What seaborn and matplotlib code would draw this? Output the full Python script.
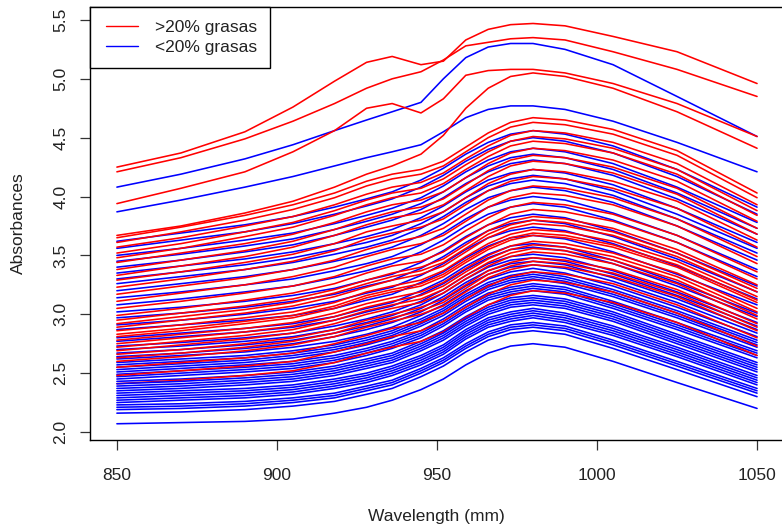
import matplotlib
matplotlib.use("Agg")
import matplotlib.pyplot as plt
from matplotlib.lines import Line2D
from matplotlib.legend_handler import HandlerLine2D
import seaborn as sns
import pandas as pd

# ---------------- data ----------------
wavelengths = [850, 870, 890, 905, 918, 928, 936, 945, 952, 959, 966, 973, 980, 990, 1005, 1025, 1050]

legend_labels = [">20% grasas", "<20% grasas"]
x_ticks = [850, 900, 950, 1000, 1050]
y_ticks = [2.0, 2.5, 3.0, 3.5, 4.0, 4.5, 5.0, 5.5]

# samples with more than 20 % fat (red)
high_fat = [
    [4.25, 4.37, 4.55, 4.76, 4.98, 5.14, 5.19, 5.12, 5.15, 5.33, 5.42, 5.46, 5.47, 5.45, 5.36, 5.23, 4.96],
    [4.21, 4.33, 4.49, 4.64, 4.79, 4.92, 5.00, 5.06, 5.16, 5.28, 5.31, 5.34, 5.35, 5.33, 5.23, 5.08, 4.85],
    [3.94, 4.07, 4.21, 4.38, 4.56, 4.75, 4.79, 4.71, 4.83, 5.03, 5.07, 5.08, 5.08, 5.05, 4.96, 4.79, 4.51],
    [3.67, 3.75, 3.86, 3.96, 4.08, 4.19, 4.26, 4.36, 4.52, 4.75, 4.92, 5.02, 5.05, 5.02, 4.92, 4.72, 4.41],
    [3.65, 3.74, 3.84, 3.93, 4.03, 4.13, 4.19, 4.23, 4.30, 4.42, 4.54, 4.63, 4.67, 4.65, 4.57, 4.39, 4.03],
    [3.61, 3.70, 3.80, 3.89, 3.99, 4.09, 4.15, 4.19, 4.26, 4.38, 4.50, 4.59, 4.63, 4.61, 4.53, 4.35, 3.99],
    [3.57, 3.65, 3.75, 3.83, 3.93, 4.02, 4.08, 4.12, 4.20, 4.32, 4.43, 4.52, 4.56, 4.54, 4.46, 4.28, 3.93],
    [3.52, 3.60, 3.70, 3.78, 3.88, 3.97, 4.03, 4.07, 4.15, 4.27, 4.38, 4.47, 4.51, 4.49, 4.41, 4.23, 3.88],
    [3.48, 3.56, 3.66, 3.74, 3.84, 3.93, 3.99, 4.03, 4.11, 4.23, 4.34, 4.43, 4.47, 4.45, 4.37, 4.19, 3.84],
    [3.44, 3.52, 3.60, 3.68, 3.78, 3.87, 3.93, 3.97, 4.04, 4.16, 4.28, 4.37, 4.41, 4.39, 4.31, 4.13, 3.79],
    [3.38, 3.46, 3.54, 3.62, 3.72, 3.81, 3.87, 3.91, 3.98, 4.10, 4.22, 4.31, 4.35, 4.33, 4.25, 4.07, 3.73],
    [3.33, 3.41, 3.49, 3.57, 3.67, 3.76, 3.82, 3.86, 3.93, 4.05, 4.17, 4.26, 4.30, 4.28, 4.20, 4.02, 3.68],
    [3.29, 3.36, 3.44, 3.51, 3.60, 3.70, 3.75, 3.80, 3.87, 3.99, 4.11, 4.19, 4.23, 4.21, 4.13, 3.96, 3.63],
    [3.23, 3.30, 3.38, 3.45, 3.54, 3.64, 3.69, 3.74, 3.81, 3.93, 4.05, 4.13, 4.17, 4.15, 4.07, 3.90, 3.57],
    [3.17, 3.24, 3.31, 3.38, 3.46, 3.55, 3.61, 3.66, 3.73, 3.85, 3.97, 4.05, 4.09, 4.07, 3.99, 3.81, 3.49],
    [3.11, 3.18, 3.25, 3.32, 3.40, 3.49, 3.55, 3.60, 3.67, 3.79, 3.91, 3.99, 4.03, 4.01, 3.93, 3.75, 3.43],
    [3.05, 3.11, 3.18, 3.24, 3.32, 3.41, 3.47, 3.51, 3.59, 3.71, 3.82, 3.91, 3.95, 3.93, 3.85, 3.67, 3.36],
    [2.99, 3.05, 3.12, 3.18, 3.26, 3.35, 3.41, 3.45, 3.53, 3.65, 3.76, 3.85, 3.89, 3.87, 3.79, 3.61, 3.30],
    [2.95, 3.01, 3.07, 3.13, 3.21, 3.29, 3.35, 3.40, 3.47, 3.59, 3.71, 3.79, 3.83, 3.81, 3.73, 3.55, 3.25],
    [2.92, 2.98, 3.04, 3.10, 3.18, 3.26, 3.32, 3.37, 3.44, 3.56, 3.68, 3.76, 3.80, 3.78, 3.70, 3.52, 3.22],
    [2.89, 2.95, 3.01, 3.07, 3.15, 3.23, 3.29, 3.34, 3.41, 3.53, 3.65, 3.73, 3.77, 3.75, 3.67, 3.49, 3.19],
    [2.86, 2.91, 2.97, 3.02, 3.10, 3.19, 3.24, 3.29, 3.37, 3.49, 3.60, 3.68, 3.72, 3.70, 3.62, 3.45, 3.15],
    [2.83, 2.88, 2.94, 2.99, 3.07, 3.16, 3.21, 3.26, 3.34, 3.46, 3.57, 3.65, 3.69, 3.67, 3.59, 3.42, 3.12],
    [2.81, 2.86, 2.92, 2.97, 3.05, 3.14, 3.19, 3.24, 3.32, 3.44, 3.55, 3.63, 3.67, 3.65, 3.57, 3.40, 3.10],
    [2.78, 2.83, 2.88, 2.93, 3.01, 3.09, 3.14, 3.19, 3.27, 3.39, 3.50, 3.58, 3.62, 3.60, 3.52, 3.35, 3.05],
    [2.75, 2.80, 2.85, 2.90, 2.98, 3.06, 3.11, 3.16, 3.24, 3.36, 3.47, 3.55, 3.59, 3.57, 3.49, 3.32, 3.02],
    [2.72, 2.77, 2.82, 2.87, 2.95, 3.03, 3.08, 3.13, 3.21, 3.33, 3.44, 3.52, 3.56, 3.54, 3.46, 3.29, 2.99],
    [2.69, 2.74, 2.79, 2.84, 2.92, 3.00, 3.05, 3.10, 3.18, 3.30, 3.41, 3.49, 3.53, 3.51, 3.43, 3.26, 2.96],
    [2.66, 2.70, 2.75, 2.80, 2.87, 2.95, 3.00, 3.06, 3.13, 3.25, 3.37, 3.44, 3.48, 3.46, 3.38, 3.21, 2.92],
    [2.63, 2.67, 2.72, 2.77, 2.84, 2.92, 2.97, 3.03, 3.10, 3.22, 3.34, 3.41, 3.45, 3.43, 3.35, 3.18, 2.89],
    [2.60, 2.64, 2.69, 2.74, 2.81, 2.89, 2.94, 3.00, 3.07, 3.19, 3.31, 3.38, 3.42, 3.40, 3.32, 3.15, 2.86],
    [2.55, 2.59, 2.63, 2.67, 2.75, 2.82, 2.88, 2.93, 3.01, 3.13, 3.24, 3.32, 3.36, 3.34, 3.26, 3.08, 2.80],
    [2.48, 2.52, 2.56, 2.60, 2.68, 2.75, 2.81, 2.86, 2.94, 3.06, 3.17, 3.25, 3.29, 3.27, 3.19, 3.01, 2.73],
    [2.41, 2.44, 2.48, 2.52, 2.59, 2.67, 2.72, 2.77, 2.85, 2.97, 3.08, 3.16, 3.20, 3.18, 3.10, 2.93, 2.65],
]

# samples with less than 20 % fat (blue)
low_fat = [
    [4.08, 4.19, 4.32, 4.44, 4.56, 4.65, 4.72, 4.80, 5.00, 5.18, 5.27, 5.30, 5.30, 5.25, 5.12, 4.85, 4.51],
    [3.87, 3.97, 4.08, 4.17, 4.26, 4.33, 4.38, 4.44, 4.55, 4.67, 4.74, 4.77, 4.77, 4.74, 4.64, 4.46, 4.21],
    [3.62, 3.69, 3.76, 3.83, 3.91, 3.98, 4.04, 4.14, 4.24, 4.36, 4.46, 4.53, 4.56, 4.53, 4.43, 4.23, 3.91],
    [3.56, 3.63, 3.70, 3.77, 3.85, 3.92, 3.98, 4.08, 4.18, 4.30, 4.40, 4.47, 4.50, 4.47, 4.37, 4.17, 3.85],
    [3.50, 3.56, 3.63, 3.69, 3.77, 3.84, 3.90, 3.99, 4.09, 4.21, 4.31, 4.38, 4.41, 4.38, 4.28, 4.08, 3.78],
    [3.45, 3.51, 3.58, 3.64, 3.72, 3.79, 3.85, 3.94, 4.04, 4.16, 4.26, 4.33, 4.36, 4.33, 4.23, 4.03, 3.73],
    [3.40, 3.46, 3.53, 3.59, 3.67, 3.74, 3.80, 3.89, 3.99, 4.11, 4.21, 4.28, 4.31, 4.28, 4.18, 3.98, 3.68],
    [3.35, 3.41, 3.47, 3.53, 3.60, 3.66, 3.72, 3.82, 3.92, 4.04, 4.14, 4.20, 4.23, 4.20, 4.10, 3.90, 3.61],
    [3.30, 3.36, 3.42, 3.48, 3.55, 3.61, 3.67, 3.77, 3.87, 3.99, 4.09, 4.15, 4.18, 4.15, 4.05, 3.85, 3.56],
    [3.26, 3.32, 3.38, 3.44, 3.51, 3.57, 3.63, 3.73, 3.83, 3.95, 4.05, 4.11, 4.14, 4.11, 4.01, 3.81, 3.52],
    [3.20, 3.26, 3.32, 3.38, 3.45, 3.51, 3.57, 3.67, 3.77, 3.89, 3.99, 4.05, 4.08, 4.05, 3.95, 3.75, 3.46],
    [3.14, 3.19, 3.25, 3.30, 3.37, 3.43, 3.49, 3.59, 3.69, 3.81, 3.91, 3.97, 4.00, 3.97, 3.86, 3.67, 3.38],
    [3.08, 3.13, 3.19, 3.24, 3.31, 3.37, 3.43, 3.53, 3.63, 3.75, 3.85, 3.91, 3.94, 3.91, 3.80, 3.61, 3.32],
    [3.02, 3.06, 3.11, 3.16, 3.22, 3.29, 3.34, 3.44, 3.54, 3.66, 3.76, 3.82, 3.85, 3.82, 3.71, 3.52, 3.24],
    [2.97, 3.01, 3.06, 3.11, 3.17, 3.24, 3.29, 3.39, 3.49, 3.61, 3.71, 3.77, 3.80, 3.77, 3.66, 3.47, 3.19],
    [2.91, 2.95, 3.00, 3.05, 3.11, 3.18, 3.23, 3.33, 3.43, 3.55, 3.65, 3.71, 3.74, 3.71, 3.60, 3.41, 3.13],
    [2.87, 2.91, 2.95, 2.99, 3.05, 3.12, 3.17, 3.27, 3.36, 3.48, 3.58, 3.65, 3.67, 3.64, 3.53, 3.34, 3.08],
    [2.80, 2.84, 2.88, 2.92, 2.98, 3.05, 3.10, 3.20, 3.29, 3.41, 3.51, 3.58, 3.60, 3.57, 3.46, 3.27, 3.01],
    [2.77, 2.81, 2.85, 2.89, 2.95, 3.02, 3.07, 3.17, 3.26, 3.38, 3.48, 3.55, 3.57, 3.54, 3.43, 3.24, 2.98],
    [2.73, 2.76, 2.80, 2.84, 2.90, 2.96, 3.02, 3.11, 3.21, 3.33, 3.43, 3.49, 3.51, 3.48, 3.37, 3.19, 2.93],
    [2.70, 2.73, 2.77, 2.81, 2.87, 2.93, 2.99, 3.08, 3.18, 3.30, 3.40, 3.46, 3.48, 3.45, 3.34, 3.16, 2.90],
    [2.67, 2.70, 2.74, 2.78, 2.84, 2.90, 2.96, 3.05, 3.15, 3.27, 3.37, 3.43, 3.45, 3.42, 3.31, 3.13, 2.87],
    [2.64, 2.67, 2.71, 2.75, 2.81, 2.87, 2.93, 3.02, 3.12, 3.24, 3.34, 3.40, 3.42, 3.39, 3.28, 3.10, 2.84],
    [2.62, 2.65, 2.68, 2.72, 2.77, 2.83, 2.89, 2.99, 3.08, 3.20, 3.30, 3.36, 3.39, 3.35, 3.24, 3.06, 2.81],
    [2.59, 2.62, 2.65, 2.69, 2.74, 2.80, 2.86, 2.96, 3.05, 3.17, 3.27, 3.33, 3.36, 3.32, 3.21, 3.03, 2.78],
    [2.57, 2.60, 2.63, 2.67, 2.72, 2.78, 2.84, 2.94, 3.03, 3.15, 3.25, 3.31, 3.34, 3.30, 3.19, 3.01, 2.76],
    [2.55, 2.58, 2.61, 2.65, 2.70, 2.76, 2.82, 2.92, 3.01, 3.13, 3.23, 3.29, 3.32, 3.28, 3.17, 2.99, 2.74],
    [2.53, 2.56, 2.59, 2.63, 2.68, 2.74, 2.80, 2.90, 2.99, 3.11, 3.21, 3.27, 3.30, 3.26, 3.15, 2.97, 2.72],
    [2.51, 2.54, 2.57, 2.60, 2.65, 2.71, 2.77, 2.86, 2.96, 3.08, 3.18, 3.23, 3.26, 3.23, 3.11, 2.93, 2.69],
    [2.49, 2.52, 2.55, 2.58, 2.63, 2.69, 2.75, 2.84, 2.94, 3.06, 3.16, 3.21, 3.24, 3.21, 3.09, 2.91, 2.67],
    [2.47, 2.50, 2.53, 2.56, 2.61, 2.67, 2.73, 2.82, 2.92, 3.04, 3.14, 3.19, 3.22, 3.19, 3.07, 2.89, 2.65],
    [2.45, 2.48, 2.51, 2.54, 2.59, 2.65, 2.71, 2.80, 2.90, 3.02, 3.12, 3.17, 3.20, 3.17, 3.05, 2.87, 2.63],
    [2.43, 2.45, 2.48, 2.51, 2.56, 2.62, 2.67, 2.77, 2.86, 2.98, 3.08, 3.14, 3.16, 3.13, 3.02, 2.83, 2.59],
    [2.41, 2.43, 2.46, 2.49, 2.54, 2.60, 2.65, 2.75, 2.84, 2.96, 3.06, 3.12, 3.14, 3.11, 3.00, 2.81, 2.57],
    [2.39, 2.41, 2.44, 2.47, 2.52, 2.58, 2.63, 2.73, 2.82, 2.94, 3.04, 3.10, 3.12, 3.09, 2.98, 2.79, 2.55],
    [2.37, 2.39, 2.42, 2.45, 2.50, 2.56, 2.61, 2.71, 2.80, 2.92, 3.02, 3.08, 3.10, 3.07, 2.96, 2.77, 2.53],
    [2.35, 2.37, 2.40, 2.43, 2.48, 2.54, 2.59, 2.69, 2.78, 2.90, 3.00, 3.06, 3.08, 3.05, 2.94, 2.75, 2.51],
    [2.33, 2.35, 2.37, 2.40, 2.45, 2.50, 2.56, 2.65, 2.74, 2.87, 2.97, 3.02, 3.05, 3.01, 2.90, 2.72, 2.48],
    [2.31, 2.33, 2.35, 2.38, 2.43, 2.48, 2.54, 2.63, 2.72, 2.85, 2.95, 3.00, 3.03, 2.99, 2.88, 2.70, 2.46],
    [2.29, 2.31, 2.33, 2.36, 2.41, 2.46, 2.52, 2.61, 2.70, 2.83, 2.93, 2.98, 3.01, 2.97, 2.86, 2.68, 2.44],
    [2.27, 2.29, 2.31, 2.34, 2.39, 2.44, 2.50, 2.59, 2.68, 2.81, 2.91, 2.96, 2.99, 2.95, 2.84, 2.66, 2.42],
    [2.25, 2.27, 2.29, 2.32, 2.37, 2.42, 2.48, 2.57, 2.66, 2.79, 2.89, 2.94, 2.97, 2.93, 2.82, 2.64, 2.40],
    [2.23, 2.24, 2.26, 2.29, 2.33, 2.39, 2.44, 2.54, 2.63, 2.75, 2.85, 2.91, 2.93, 2.90, 2.78, 2.60, 2.37],
    [2.21, 2.22, 2.24, 2.27, 2.31, 2.37, 2.42, 2.52, 2.61, 2.73, 2.83, 2.89, 2.91, 2.88, 2.76, 2.58, 2.35],
    [2.19, 2.20, 2.22, 2.25, 2.29, 2.35, 2.40, 2.50, 2.59, 2.71, 2.81, 2.87, 2.89, 2.86, 2.74, 2.56, 2.33],
    [2.16, 2.17, 2.19, 2.22, 2.26, 2.32, 2.37, 2.47, 2.56, 2.68, 2.78, 2.84, 2.86, 2.83, 2.71, 2.53, 2.30],
    [2.07, 2.08, 2.09, 2.11, 2.16, 2.21, 2.27, 2.36, 2.45, 2.57, 2.67, 2.73, 2.75, 2.72, 2.60, 2.42, 2.20],
]

# ---------------- styling ----------------
RED = "#FF0000"
BLUE = "#0000FF"
FONT = ["Liberation Sans", "DejaVu Sans"]

sns.set_style("white")
plt.rcParams["font.family"] = FONT
plt.rcParams["font.size"] = 12.5

W, H = 782, 525
fig = plt.figure(figsize=(W / 100, H / 100), dpi=100)
# plot region in pixels: left 90, right 783 (just off the image), top 7, bottom 440
ax = fig.add_axes([90 / W, (H - 440) / H, 693 / W, 433 / H])

# long table built from the arrays, red and blue samples interleaved
rows = []
n = max(len(high_fat), len(low_fat))
cid = 0
for i in range(n):
    for group, curves in (("high", high_fat), ("low", low_fat)):
        if i < len(curves):
            for wl, v in zip(wavelengths, curves[i]):
                rows.append({"id": cid, "group": group, "wl": wl, "abs": v})
            cid += 1
df = pd.DataFrame(rows)
colors = {"high": RED, "low": BLUE}

for cid_, sub in df.groupby("id", sort=True):
    g = sub["group"].iloc[0]
    sns.lineplot(data=sub, x="wl", y="abs", color=colors[g], lw=1.15,
                 estimator=None, sort=False, legend=False, ax=ax)

ax.set_xlim(841.6, 1058.1)
ax.set_ylim(1.932, 5.610)
ax.set_xticks(x_ticks)
ax.set_xticklabels([str(t) for t in x_ticks])
ax.set_yticks(y_ticks)
ax.set_yticklabels([f"{t:.1f}" for t in y_ticks], rotation=90, va="center")

for s in ax.spines.values():
    s.set_visible(True)
    s.set_color("black")
    s.set_linewidth(1.0)

ax.tick_params(axis="both", direction="out", length=7.2, width=0.9,
               color="#333333", labelsize=12.5, labelcolor="#222222")
ax.tick_params(axis="x", pad=13)
ax.tick_params(axis="y", pad=8.5)
ax.tick_params(left=True, bottom=True)

ax.set_xlabel("Wavelength (mm)", fontsize=12.5, color="#222222")
ax.set_ylabel("Absorbances", fontsize=12.5, color="#222222")
ax.xaxis.set_label_coords(0.5, (440 - 516) / 433)
ax.xaxis.label.set_va("center")
ax.yaxis.set_label_coords((18 - 90) / 693, 0.5)
ax.yaxis.label.set_va("center")

handles = [Line2D([0], [0], color=RED, lw=1.0),
           Line2D([0], [0], color=BLUE, lw=1.0)]
leg = ax.legend(handles, legend_labels, loc="upper left", bbox_to_anchor=(0, 1),
                borderaxespad=0, fancybox=False, frameon=True, fontsize=12.5,
                handlelength=2.02, handletextpad=0.98,
                labelspacing=0.27, borderpad=0.75,
                handler_map={Line2D: HandlerLine2D(xpad=0.17)})
leg.get_frame().set_edgecolor("black")
leg.get_frame().set_linewidth(1.0)
leg.get_frame().set_alpha(1)
for t in leg.get_texts():
    t.set_color("#222222")

fig.savefig("out.png", dpi=100, facecolor="white")
